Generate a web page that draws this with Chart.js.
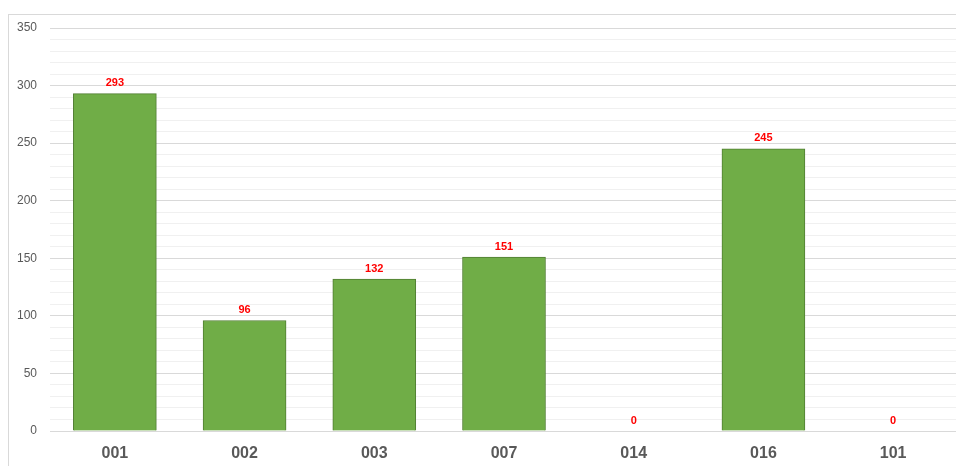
<!DOCTYPE html>
<html>
<head>
<meta charset="utf-8">
<script src="https://cdn.jsdelivr.net/npm/chart.js@4/dist/chart.umd.min.js"></script>
<style>
  html, body { margin: 0; padding: 0; background: #ffffff; overflow: hidden; }
  body { width: 956px; height: 466px; position: relative; }
  #frame {
    position: absolute; left: 8px; top: 14px; width: 1000px; height: 500px;
    border-left: 1px solid #d9d9d9; border-top: 1px solid #d9d9d9;
  }
  #wrap { position: absolute; left: 0; top: 0; width: 958px; height: 466px; }
</style>
</head>
<body>
<div id="frame"></div>
<div id="wrap"><canvas id="chart"></canvas></div>
<script>
// Counts per code
const categories = ['001', '002', '003', '007', '014', '016', '101'];
const counts = [293, 96, 132, 151, 0, 245, 0];
const yMin = 0;
const yMax = 350;
const yStep = 10;       // minor gridline spacing
const yLabelStep = 50;  // labelled gridline spacing

// Red value labels above each bar
const valueLabels = {
  id: 'valueLabels',
  afterDatasetsDraw(chart) {
    const ctx = chart.ctx;
    const meta = chart.getDatasetMeta(0);
    ctx.save();
    ctx.font = 'bold 11px "Liberation Sans", Arial, sans-serif';
    ctx.fillStyle = '#ff0000';
    ctx.textAlign = 'center';
    ctx.textBaseline = 'bottom';
    meta.data.forEach((bar, i) => {
      ctx.fillText(String(counts[i]), bar.x, bar.y - 5);
    });
    ctx.restore();
  }
};

new Chart(document.getElementById('chart'), {
  type: 'bar',
  data: {
    labels: categories,
    datasets: [{
      data: counts,
      backgroundColor: '#70ad47',
      borderColor: '#507e32',
      borderWidth: 1,
      barThickness: 83
    }]
  },
  options: {
    responsive: true,
    maintainAspectRatio: false,
    animation: false,
    layout: { padding: { left: 0, right: 0, top: 28, bottom: 0 } },
    plugins: {
      legend: { display: false },
      tooltip: { enabled: false }
    },
    scales: {
      x: {
        grid: { display: false, drawTicks: false },
        border: { display: true, color: '#d9d9d9', width: 1 },
        ticks: {
          color: '#595959',
          padding: 13,
          font: { family: '"Liberation Sans", Arial, sans-serif', size: 16, weight: 'bold' }
        },
        afterFit(scale) { scale.height = 35; }
      },
      y: {
        min: yMin,
        max: yMax,
        border: { display: false },
        grid: {
          drawTicks: false,
          color: (c) => (c.tick && c.tick.value % yLabelStep === 0) ? '#d9d9d9' : '#f0f0f0',
          lineWidth: 1
        },
        ticks: {
          stepSize: yStep,
          autoSkip: false,
          color: '#595959',
          padding: 13,
          font: { family: '"Liberation Sans", Arial, sans-serif', size: 12 },
          callback: (v) => (v % yLabelStep === 0 ? String(v) : '')
        },
        afterFit(scale) { scale.width = 50; }
      }
    }
  },
  plugins: [valueLabels]
});
</script>
</body>
</html>
